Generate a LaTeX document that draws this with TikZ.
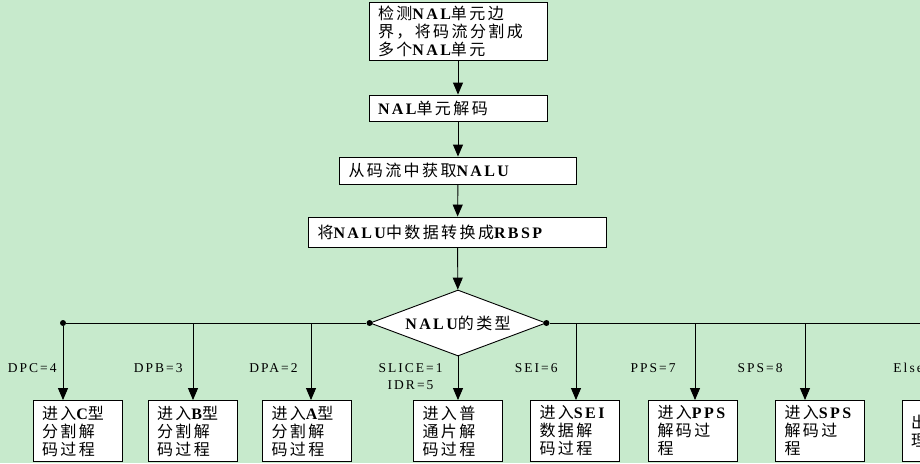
\documentclass[tikz,border=0pt]{standalone}
\usepackage{fontspec}
\setmainfont{Liberation Serif}[LetterSpace=15]
\newfontfamily\cjk[LetterSpace=15]{Noto Sans CJK SC}
\usetikzlibrary{arrows.meta,shapes.geometric}
\definecolor{bggreen}{RGB}{199,234,204}
\newcommand{\en}[1]{{\rmfamily\bfseries #1}}
\tikzset{
    procbox/.style={draw, fill=white, align=left, inner xsep=9pt, inner ysep=0pt,
        font=\cjk\fontsize{16}{18}\selectfont},
    casebox/.style={procbox, text width=71pt, minimum height=61pt},
    typelbl/.style={inner sep=0pt, align=center, font=\fontsize{13.5}{17}\selectfont},
    joint/.style={circle, fill=black, inner sep=0pt, minimum size=6pt},
}

\begin{document}
\begin{tikzpicture}[x=1pt, y=-1pt, line width=0.9pt, >={Triangle[length=12pt,width=10pt]}]
    \useasboundingbox (0,0) rectangle (920,463);
    \clip (0,0) rectangle (920,463);
    \fill[bggreen] (0,0) rectangle (920,463);

    % main chain
    \node[procbox, text width=160pt, minimum height=58pt] (detect) at (458,31)
        {检测\en{NAL}单元边\\界，将码流分割成\\多个\en{NAL}单元};
    \node[procbox, text width=160pt, minimum height=26pt] (naldec) at (458,108) {\en{NAL}单元解码};
    \node[procbox, text width=219pt, minimum height=27pt] (getnalu) at (458,170.5) {从码流中获取\en{NALU}};
    \node[procbox, text width=280pt, minimum height=30pt] (torbsp) at (457.5,232) {将\en{NALU}中数据转换成\en{RBSP}};
    \node[draw, fill=white, diamond, aspect=2.67, minimum width=176pt, minimum height=66pt, inner sep=0pt,
        font=\cjk\fontsize{16}{18}\selectfont] (type) at (458,323) {\en{NALU}的类型};

    \draw[->] (detect) -- (naldec);
    \draw[->] (naldec) -- (getnalu);
    \draw[->] (getnalu) -- (torbsp);
    \draw[->] (torbsp) -- (type);

    % one box for each type
    \node[casebox] (boxC) at (77.5,431) {进入\en{C}型\\分割解\\码过程};
    \node[casebox] (boxB) at (192.5,431) {进入\en{B}型\\分割解\\码过程};
    \node[casebox] (boxA) at (307,431) {进入\en{A}型\\分割解\\码过程};
    \node[casebox] (slice) at (458,431) {进入普\\通片解\\码过程};
    \node[casebox] (sei) at (575,431) {进入\en{SEI}\\数据解\\码过程};
    \node[casebox] (pps) at (693,431) {进入\en{PPS}\\解码过\\程};
    \node[casebox] (sps) at (820,431) {进入\en{SPS}\\解码过\\程};
    \node[casebox] (other) at (946.5,431) {出错处\\理};

    % branch points
    \node[joint] (jW) at (type.west) {};
    \node[joint] (jE) at (type.east) {};
    \node[joint] (jC) at (63,323) {};
    \coordinate (jB) at (193,323);
    \coordinate (jA) at (311,323);
    \coordinate (jS) at (576,323);
    \coordinate (jP) at (695,323);
    \coordinate (jQ) at (805,323);
    \coordinate (jX) at (940,323);

    \draw (jW) -- (jC);
    \draw (jE) -- (jX);
    \draw[->] (jC) -- (jC |- boxC.north);
    \draw[->] (jB) -- (jB |- boxB.north);
    \draw[->] (jA) -- (jA |- boxA.north);
    \draw[->] (type) -- (slice);
    \draw[->] (jS) -- (jS |- sei.north);
    \draw[->] (jP) -- (jP |- pps.north);
    \draw[->] (jQ) -- (jQ |- sps.north);
    \draw[->] (jX) -- (jX |- other.north);

    % type values
    \node[typelbl, anchor=east] (lC) at (57,368) {DPC=4};
    \node[typelbl, anchor=east] (lB) at (183,368) {DPB=3};
    \node[typelbl, anchor=east] (lA) at (298,368) {DPA=2};
    \node[typelbl, anchor=east] (lS) at (443,376.5) {SLICE=1\\IDR=5};
    \node[typelbl, anchor=east] (lE) at (558,368) {SEI=6};
    \node[typelbl, anchor=east] (lP) at (676,368) {PPS=7};
    \node[typelbl, anchor=east] (lQ) at (783,368) {SPS=8};
    \node[typelbl, anchor=west] (lX) at (893,368) {Else};
\end{tikzpicture}
\end{document}
